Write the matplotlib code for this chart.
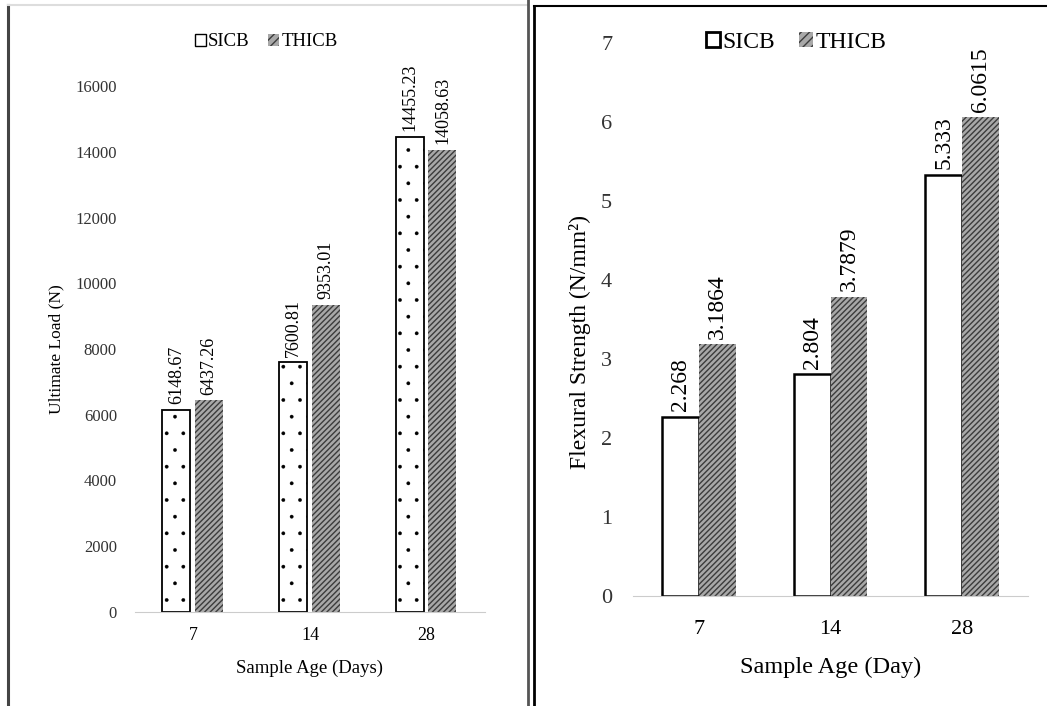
import matplotlib
matplotlib.use("Agg")
import matplotlib.pyplot as plt
from matplotlib.lines import Line2D
from matplotlib.patches import Patch
import numpy as np

plt.rcParams['font.family'] = ['Liberation Serif', 'DejaVu Serif']
plt.rcParams['hatch.linewidth'] = 1.0

ages = ['7', '14', '28']
load_sicb = [6148.67, 7600.81, 14455.23]
load_thicb = [6437.26, 9353.01, 14058.63]
load_ticks = [0, 2000, 4000, 6000, 8000, 10000, 12000, 14000, 16000]
flex_sicb = [2.268, 2.804, 5.333]
flex_thicb = [3.1864, 3.7879, 6.0615]
flex_ticks = [0, 1, 2, 3, 4, 5, 6, 7]

W, H = 1047, 706
fig = plt.figure(figsize=(10.47, 7.06), dpi=100)


def fx(px):
    return px / W


def fy(py):
    return 1 - py / H


x = np.arange(len(ages))
gray = '#a8a8a8'
hatch_col = '#3c3c3c'
tick_col = '#333333'

# ---- left panel: ultimate load
ax1 = fig.add_axes([fx(135), fy(612), fx(485) - fx(135), fy(86) - fy(612)])
with plt.rc_context({'hatch.linewidth': 0.25}):
    b1 = ax1.bar(x - 0.145, load_sicb, 0.24, facecolor='white', edgecolor='black',
                 hatch='.', linewidth=1.3)
b2 = ax1.bar(x + 0.135, load_thicb, 0.24, facecolor=gray, edgecolor=hatch_col,
             hatch='//////', linewidth=0)
ax1.set_xlim(-0.5, 2.5)
ax1.set_ylim(0, 16000)
ax1.set_yticks(load_ticks)
ax1.set_yticklabels([str(t) for t in load_ticks], fontsize=12, color=tick_col)
ax1.set_xticks(x)
ax1.set_xticklabels(ages, fontsize=13)
ax1.tick_params(length=0, axis='y', pad=13)
ax1.tick_params(length=0, axis='x', pad=11)
for s in ['top', 'right', 'left']:
    ax1.spines[s].set_visible(False)
ax1.spines['bottom'].set_color('#cccccc')
ax1.set_xlabel('Sample Age (Days)', fontsize=13.5, labelpad=11)
ax1.set_ylabel('Ultimate Load (N)', fontsize=12.5, labelpad=8)
for bars, vals in [(b1, load_sicb), (b2, load_thicb)]:
    for r, v in zip(bars, vals):
        ax1.annotate('%.2f' % v, (r.get_x() + r.get_width() / 2, v),
                     xytext=(0, 4), textcoords='offset points',
                     rotation=90, ha='center', va='bottom', fontsize=13)
fig.legend([Patch(facecolor='white', edgecolor='black', linewidth=1),
            Patch(facecolor=gray, edgecolor=hatch_col, hatch='////', linewidth=0)],
           ['SICB', 'THICB'], loc='center', bbox_to_anchor=(fx(266), fy(42)),
           ncol=2, frameon=False, fontsize=13.5, handlelength=0.6, handleheight=0.6,
           handletextpad=0.1, columnspacing=1.0)

# ---- right panel: flexural strength
ax2 = fig.add_axes([fx(633), fy(596), fx(1028) - fx(633), fy(43) - fy(596)])
c1 = ax2.bar(x - 0.14, flex_sicb, 0.28, facecolor='white', edgecolor='black',
             linewidth=1.8)
c2 = ax2.bar(x + 0.14, flex_thicb, 0.28, facecolor=gray, edgecolor=hatch_col,
             hatch='//////', linewidth=0)
ax2.set_xlim(-0.5, 2.5)
ax2.set_ylim(0, 7)
ax2.set_yticks(flex_ticks)
ax2.set_yticklabels([str(t) for t in flex_ticks], fontsize=16, color=tick_col)
ax2.set_xticks(x)
ax2.set_xticklabels(ages, fontsize=16)
ax2.tick_params(length=0, axis='y', pad=15)
ax2.tick_params(length=0, axis='x', pad=17)
for s in ['top', 'right', 'left']:
    ax2.spines[s].set_visible(False)
ax2.spines['bottom'].set_color('#cccccc')
ax2.set_xlabel('Sample Age (Day)', fontsize=17.5, labelpad=13)
ax2.set_ylabel('Flexural Strength (N/mm²)', fontsize=17)
ax2.yaxis.set_label_coords(-0.107, 0.46)
for bars, vals in [(c1, flex_sicb), (c2, flex_thicb)]:
    for r, v in zip(bars, vals):
        ax2.annotate('%g' % v, (r.get_x() + r.get_width() / 2, v),
                     xytext=(0, 4), textcoords='offset points',
                     rotation=90, ha='center', va='bottom', fontsize=17)
fig.legend([Patch(facecolor='white', edgecolor='black', linewidth=2),
            Patch(facecolor=gray, edgecolor=hatch_col, hatch='////', linewidth=0)],
           ['SICB', 'THICB'], loc='center', bbox_to_anchor=(fx(796), fy(42)),
           ncol=2, frameon=False, fontsize=17, handlelength=0.6, handleheight=0.6,
           handletextpad=0.1, columnspacing=1.0)

# ---- panel borders
fig.add_artist(Line2D([fx(8), fx(8)], [0, fy(5)], color='#444444', lw=2.2))
fig.add_artist(Line2D([fx(8), fx(528)], [fy(5), fy(5)], color='#dddddd', lw=1.5))
fig.add_artist(Line2D([fx(528), fx(528)], [0, 1], color='#555555', lw=2))
fig.add_artist(Line2D([fx(534), fx(534)], [0, fy(6)], color='black', lw=2))
fig.add_artist(Line2D([fx(534), 1], [fy(6), fy(6)], color='black', lw=1.5))

fig.savefig('out.png', dpi=100)
